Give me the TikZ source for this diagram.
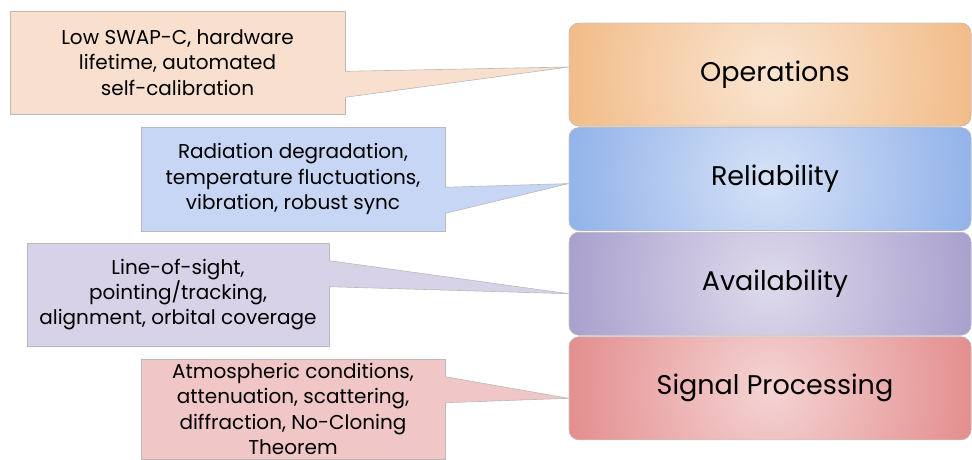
\documentclass[tikz,border=0pt]{standalone}
\usepackage{fontspec}
\setmainfont{Poppins}
\usetikzlibrary{positioning}

\definecolor{bglow}{HTML}{F9E0CE}
\definecolor{bgrad}{HTML}{C7D6F4}
\definecolor{bglos}{HTML}{D7D2E8}
\definecolor{bgatm}{HTML}{F1C6C6}
\definecolor{orng}{HTML}{EDA35C}
\definecolor{blu}{HTML}{6A96E2}
\definecolor{purp}{HTML}{8A7CBB}
\definecolor{redd}{HTML}{DA6464}

\begin{document}
\begin{tikzpicture}[x=1pt,y=-1pt,
    note/.style={draw=gray!55,line width=0.6pt,align=center,inner sep=0pt,
                 font=\fontsize{20}{25.2}\selectfont},
    pillar/.style={draw=gray!45,line width=0.6pt,rounded corners=10pt,
                   minimum width=402pt,minimum height=103pt,
                   font=\fontsize{27}{30}\selectfont,
                   execute at begin node=\hspace*{10pt},
                   path picture={\fill[inner color=#1!28,outer color=#1]
                       (path picture bounding box.center) circle (330pt);}}]
    \useasboundingbox (0,0) rectangle (972,459);

    % right column
    \node[pillar=orng] (ops) at (770,74.5) {Operations};
    \node[pillar=blu,below=1pt of ops] (rel) {Reliability};
    \node[pillar=purp,below=1pt of rel] (avail) {Availability};
    \node[pillar=redd,below=1pt of avail] (sig) {Signal Processing};

    % notes
    \node[note,fill=bglow,minimum width=335pt,minimum height=103pt] (low) at (177.5,62.5)
        {Low SWAP-C, hardware\\lifetime, automated\\self-calibration};
    \node[note,fill=bgrad,minimum width=304pt,minimum height=104pt] (rad) at (293,179)
        {Radiation degradation,\\temperature fluctuations,\\vibration, robust sync};
    \node[note,fill=bglos,minimum width=302pt,minimum height=103pt] (los) at (178,294.5)
        {Line-of-sight,\\pointing/tracking,\\alignment, orbital coverage};
    \node[note,fill=bgatm,minimum width=304pt,minimum height=100pt] (atm) at (293,409)
        {Atmospheric conditions,\\attenuation, scattering,\\diffraction, No-Cloning\\Theorem};

    % pointers
    \foreach \n/\p/\a/\u/\v/\t in {low/ops/south east/43/17/7.5,
                                   rad/rel/south east/44/18/-4.5,
                                   los/avail/north east/-18/-44/-10,
                                   atm/sig/north east/-18/-44/-10}{
        \filldraw[fill=bg\n,draw=gray!55,line width=0.6pt]
            ([yshift=\u pt]\n.\a) -- ([yshift=\t pt]\p.west) -- ([yshift=\v pt]\n.\a);
        \draw[bg\n,line width=1.2pt] ([yshift=\u pt-0.6pt]\n.\a) -- ([yshift=\v pt+0.6pt]\n.\a);
    }
\end{tikzpicture}
\end{document}
